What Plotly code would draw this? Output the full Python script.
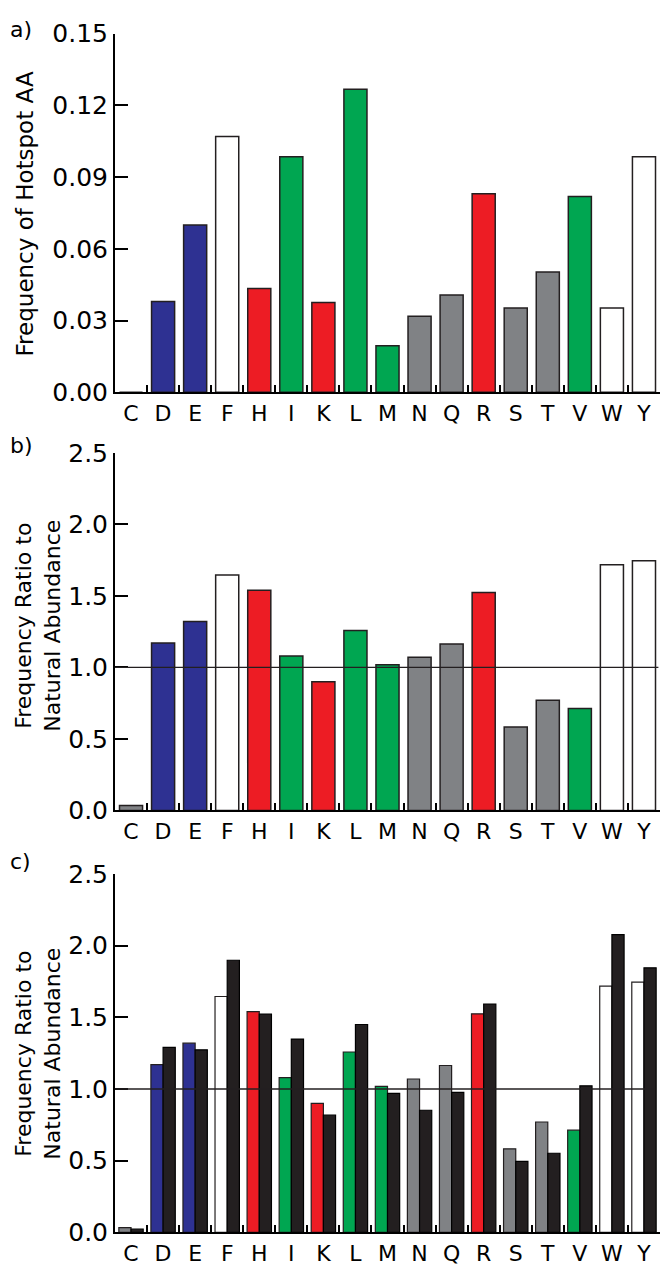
import plotly.graph_objects as go

# ---- data ----
amino_acids = ["C", "D", "E", "F", "H", "I", "K", "L", "M", "N", "Q", "R", "S", "T", "V", "W", "Y"]
aa_group = ["gray", "blue", "blue", "white", "red", "green", "red", "green", "green",
            "gray", "gray", "red", "gray", "gray", "green", "white", "white"]

hotspot_freq = [0.0, 0.038, 0.070, 0.107, 0.0434, 0.0985, 0.0375, 0.1268, 0.0195,
                0.0318, 0.0407, 0.0831, 0.0353, 0.0503, 0.0819, 0.0353, 0.0985]

ratio_b = [0.034, 1.17, 1.32, 1.645, 1.54, 1.08, 0.90, 1.258, 1.018,
           1.07, 1.164, 1.524, 0.583, 0.770, 0.713, 1.718, 1.745]

ratio_c_black = [0.023, 1.29, 1.273, 1.898, 1.523, 1.348, 0.818, 1.45, 0.97,
                 0.852, 0.977, 1.593, 0.496, 0.552, 1.022, 2.077, 1.845]

yticks_a = [0.00, 0.03, 0.06, 0.09, 0.12, 0.15]
yticks_bc = [0.0, 0.5, 1.0, 1.5, 2.0, 2.5]

palette = {"gray": "#808285", "blue": "#2E3192", "white": "#FFFFFF",
           "red": "#ED1C24", "green": "#00A651"}
black_fill = "#231F20"
bar_colors = [palette[g] for g in aa_group]

PAGE_W, PAGE_H = 668, 1274
OFF = 8  # default body margin of the html page
W, H = PAGE_W - 2 * OFF, PAGE_H - 2 * OFF
FONT = "DejaVu Sans"

def px_x(p):
    return (p - OFF) / W

def px_y(p):
    return 1 - (p - OFF) / H

fig = go.Figure()

# panel a
fig.add_trace(go.Bar(x=amino_acids, y=hotspot_freq, marker=dict(color=bar_colors,
              line=dict(color="#231F20", width=1.5)), width=0.72,
              xaxis="x", yaxis="y", showlegend=False))
# panel b
fig.add_trace(go.Bar(x=amino_acids, y=ratio_b, marker=dict(color=bar_colors,
              line=dict(color="#231F20", width=1.5)), width=0.72,
              xaxis="x2", yaxis="y2", showlegend=False))
# panel c
fig.add_trace(go.Bar(x=amino_acids, y=ratio_b, marker=dict(color=bar_colors,
              line=dict(color="#231F20", width=1.2)), offsetgroup="a",
              xaxis="x3", yaxis="y3", showlegend=False))
fig.add_trace(go.Bar(x=amino_acids, y=ratio_c_black, marker=dict(color=black_fill,
              line=dict(color="#000000", width=1.2)), offsetgroup="b",
              xaxis="x3", yaxis="y3", showlegend=False))

xdom = [px_x(115), min(1.0, px_x(665))]
panels = [  # (top px, bottom px) in page coordinates
    (20, 387), (449, 815), (880, 1247)
]

common_x = dict(type="category", categoryorder="array", categoryarray=amino_acids,
                range=[-0.5, 16.5], domain=xdom, showline=True, linecolor="black",
                linewidth=2, ticks="inside", tickson="boundaries", ticklen=7,
                tickwidth=2, tickcolor="black", showgrid=False, zeroline=False,
                tickfont=dict(family=FONT, size=22, color="black"))
common_y = dict(showline=True, linecolor="black", linewidth=2, ticks="inside",
                ticklen=13, tickwidth=2, tickcolor="black", showgrid=False,
                zeroline=False, tickfont=dict(family=FONT, size=25, color="black"))

layout = dict(width=W, height=H, margin=dict(l=0, r=0, t=0, b=0),
              plot_bgcolor="white", paper_bgcolor="white",
              barmode="group", bargap=0.24, bargroupgap=0.0)

for i, (top, bot) in enumerate(panels):
    sfx = "" if i == 0 else str(i + 1)
    xa = dict(common_x)
    xa["anchor"] = "y" + sfx
    ya = dict(common_y)
    ya["domain"] = [px_y(bot), px_y(top)]
    ya["anchor"] = "x" + sfx
    if i == 0:
        ya.update(range=[0, 0.15], tickvals=yticks_a, tickformat=".2f")
    else:
        ya.update(range=[0, 2.5], tickvals=yticks_bc, tickformat=".1f")
    layout["xaxis" + sfx] = xa
    layout["yaxis" + sfx] = ya

fig.update_layout(**layout)

# reference lines at 1.0
for sfx, xend in [("2", 16.45), ("3", 16.35)]:
    fig.add_shape(type="line", xref="x" + sfx, yref="y" + sfx, x0=-0.5, x1=xend,
                  y0=1.0, y1=1.0, line=dict(color="#231F20", width=1.3), layer="above")

ann = []
ann.append(dict(text="Frequency of Hotspot AA", x=px_x(25), y=px_y(205), xref="paper",
                yref="paper", textangle=-90, showarrow=False, xanchor="center",
                yanchor="middle", font=dict(family=FONT, size=23, color="black")))
for cy in [626, 1064]:
    ann.append(dict(text="Frequency Ratio to<br>Natural Abundance", x=px_x(38), y=px_y(cy),
                    xref="paper", yref="paper", textangle=-90, showarrow=False,
                    xanchor="center", yanchor="middle",
                    font=dict(family=FONT, size=22, color="black")))
for lab, cy in [("a)", 16), ("b)", 441), ("c)", 867)]:
    ann.append(dict(text=lab, x=0, y=px_y(cy), xref="paper", yref="paper",
                    showarrow=False, xanchor="left", yanchor="middle",
                    font=dict(family=FONT, size=22, color="black")))
fig.update_layout(annotations=ann)

fig.write_html("out.html")
